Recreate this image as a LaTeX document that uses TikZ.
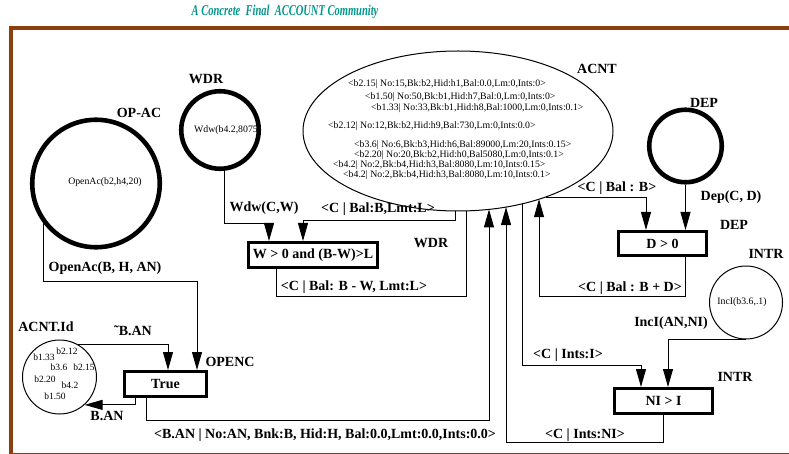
\documentclass[tikz,border=0pt]{standalone}
\usepackage{fontspec}
\setmainfont{Liberation Serif}
\usetikzlibrary{arrows.meta,shapes.geometric,calc}

\definecolor{framebrown}{RGB}{140,62,16}
\definecolor{titleteal}{RGB}{0,150,140}

\begin{document}
\begin{tikzpicture}[x=1pt,y=-1pt]
	\tikzset{
		lbl/.style={font=\fontsize{14}{16}\selectfont\bfseries},
		datatxt/.style={font=\fontsize{9.8}{11}\selectfont, inner sep=0pt},
		ring/.style={circle, draw, line width=4.6pt, inner sep=0pt},
		thinring/.style={circle, draw, line width=1pt, inner sep=0pt},
		cond/.style={rectangle, draw, line width=2.6pt, inner sep=0pt, lbl},
		link/.style={line width=0.9pt},
		arr/.style={link, -{Triangle[length=18pt, width=10pt]}}
	}
	\useasboundingbox (0,0) rectangle (789,454);
	% frame and title
	\draw[framebrown, line width=3.6pt] (800,28) -- (11,28) -- (11,454.6) -- (800,454.6);
	\node[font=\fontsize{15}{16}\selectfont\bfseries\itshape, text=titleteal] (title) at (285,12) {\scalebox{0.7}[1]{A Concrete\ \ Final\ \ ACCOUNT Community}};

	% account place and its tokens
	\node[ellipse, draw, line width=1pt, inner sep=0pt, minimum width=310pt, minimum height=160pt] (acnt) at (458,131) {};
	\node[lbl] (lacnt) at (597,69) {ACNT};
	\foreach \yy/\xx/\txt [count=\i] in {
		84/348/{<b2.15| No:15,Bk:b2,Hid:h1,Bal:0.0,Lm:0,Ints:0>},
		97/365/{<b1.50| No:50,Bk:b1,Hid:h7,Bal:0,Lm:0,Ints:0>},
		108/371/{<b1.33| No:33,Bk:b1,Hid:h8,Bal:1000,Lm:0,Ints:0.1>},
		126/328/{<b2.12| No:12,Bk:b2,Hid:h9,Bal:730,Lm:0,Ints:0.0>},
		145/354/{<b3.6| No:6,Bk:b3,Hid:h6,Bal:89000,Lm:20,Ints:0.15>},
		155/354/{<b2.20| No:20,Bk:b2,Hid:h0,Bal5080,Lm:0,Ints:0.1>},
		165/333/{<b4.2| No:2,Bk:b4,Hid:h3,Bal:8080,Lm:10,Ints:0.15>},
		175/343/{<b4.2| No:2,Bk:b4,Hid:h3,Bal:8080,Lm:10,Ints:0.1>}}
		\node[datatxt, anchor=west] (tok\i) at (\xx,\yy) {\txt};
	% points on the rim of the ellipse
	\foreach \n/\xx in {a/455,b/466,c/489,d/506,e/522,f/539}
		\coordinate (acnt-\n) at (\xx,{131+80*sqrt(1-((\xx-458)/155)^2)});
	\coordinate (acnt-g) at ({458+155*sqrt(1-((197-131)/80)^2)},197);

	% transition places
	\node[ring, minimum size=127.5pt] (opac) at (96,183.5) {};
	\node[datatxt] (opactxt) at (105,182) {OpenAc(b2,h4,20)};
	\node[lbl] (lopac) at (139,113) {OP-AC};

	\node[ring, minimum size=77.5pt] (wdr) at (220,130) {};
	\node[datatxt] (wdrtxt) at (226,130) {Wdw(b4.2,8075};
	\node[lbl] (lwdr) at (206,79) {WDR};

	\node[ring, minimum size=72.5pt] (dep) at (685.5,146) {};
	\node[lbl] (ldep) at (704,103) {DEP};

	\node[thinring, minimum size=73pt] (intr) at (746,302.5) {};
	\node[datatxt] (intrtxt) at (742,302) {IncI(b3.6,.1)};
	\node[lbl] (lintr) at (766,254) {INTR};

	\node[thinring, minimum size=74pt] (acntid) at (59.5,377) {};
	\node[lbl] (lacntid) at (46,327) {ACNT.Id};
	\foreach \xx/\yy/\txt in {44/357/b1.33, 67/351/b2.12, 59/367/b3.6, 84/367/b2.15, 45/379/b2.20, 70/385/b4.2, 55/396/b1.50}
		\node[datatxt, font=\fontsize{9.5}{10}\selectfont] (id-\txt) at (\xx,\yy) {\txt};

	% guards
	\node[cond, minimum width=82.4pt, minimum height=25.4pt] (tbox) at (165.5,384) {True};
	\node[lbl] (ltbox) at (230,362) {OPENC};
	\node[cond, minimum width=129.4pt, minimum height=25.4pt] (wbox) at (313,255) {W > 0 and (B-W)>L};
	\node[lbl] (lwbox) at (431,243) {WDR};
	\node[cond, minimum width=88.4pt, minimum height=24.4pt] (dbox) at (662.5,243.5) {D > 0};
	\node[lbl] (ldbox) at (734,225) {DEP};
	\node[cond, minimum width=98.4pt, minimum height=25.4pt] (nbox) at (663.5,401) {NI > I};
	\node[lbl] (lnbox) at (735,377) {INTR};

	% open an account
	\draw[arr] (opac.217) -- ++(0,58) -| ([xshift=31.5pt]tbox.north);
	\node[lbl] (lopen) at (105,268) {OpenAc(B, H, AN)};
	\draw[arr] (acntid.60) -| ([xshift=2.5pt]tbox.north);
	\node[lbl] (lnotid) at (133,331) {˜B.AN};
	\draw[arr] ([xshift=-30.5pt]tbox.south) |- (acntid.-48);
	\node[lbl] (lid) at (107,416) {B.AN};
	\draw[arr] ([xshift=-19.5pt]tbox.south) -- ++(0,22) -| (acnt-c);
	\node[lbl] (lnew) at (325,435) {<B.AN | No:AN, Bnk:B, Hid:H, Bal:0.0,Lmt:0.0,Ints:0.0>};

	% withdraw
	\draw[arr] (wdr.-84) -- ++(0,53) -| ([xshift=-44pt]wbox.north);
	\node[lbl] (lwdw) at (264,208) {Wdw(C,W)};
	\draw[arr] (acnt-a) -- ++(0,9) -| ([xshift=-10pt]wbox.north);
	\node[lbl] (lwin) at (378,209) {<C | Bal:B,Lmt:L>};
	\draw[link] ([xshift=-37pt]wbox.south) -- ++(0,27) -| (acnt-b);
	\node[lbl] (lwout) at (354,287) {<C | Bal: B - W, Lmt:L>};

	% deposit
	\draw[arr] (acnt-g) -| ([xshift=-16.5pt]dbox.north);
	\node[lbl] (ldin) at (617,188) {<C | Bal : B>};
	\draw[arr] (dep.south) -- (dep.south |- dbox.north);
	\node[lbl] (ldep) at (731,197) {Dep(C, D)};
	\draw[arr] ([xshift=22.5pt]dbox.south) -- ++(0,39) -| (acnt-f);
	\node[lbl] (ldout) at (630,288) {<C | Bal : B + D>};

	% interest
	\draw[arr] (acnt-e) |- ([xshift=-22.5pt,yshift=22pt]nbox.north) -- ([xshift=-22.5pt]nbox.north);
	\node[lbl] (liin) at (568,355) {<C | Ints:I>};
	\draw[arr] (intr.south) -| ([xshift=4.5pt]nbox.north);
	\node[lbl] (linc) at (671,323) {IncI(AN,NI)};
	\draw[arr] (nbox.south) -- ++(0,27) -| (acnt-d);
	\node[lbl] (liout) at (585,435) {<C | Ints:NI>};
\end{tikzpicture}
\end{document}
